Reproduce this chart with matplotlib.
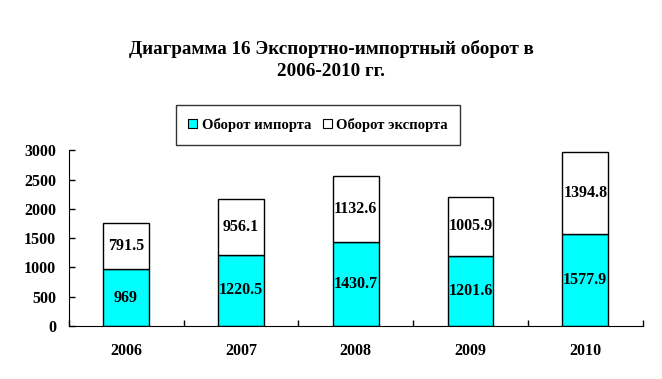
import matplotlib
matplotlib.use("Agg")
import matplotlib.pyplot as plt
from matplotlib.patches import Patch
import numpy as np

years = ["2006", "2007", "2008", "2009", "2010"]
imports = [969, 1220.5, 1430.7, 1201.6, 1577.9]
exports = [791.5, 956.1, 1132.6, 1005.9, 1394.8]
import_labels = ["969", "1220.5", "1430.7", "1201.6", "1577.9"]
export_labels = ["791.5", "956.1", "1132.6", "1005.9", "1394.8"]
yticks = [0, 500, 1000, 1500, 2000, 2500, 3000]

plt.rcParams['font.family'] = ['Liberation Serif', 'DejaVu Serif']
plt.rcParams['font.weight'] = 'bold'

W, H = 662, 379
fig = plt.figure(figsize=(W/100, H/100), dpi=100)
ax = fig.add_axes([68.7/W, 1 - 326/H, (642.7-68.7)/W, (326-150.3)/H])

x = np.arange(len(years))
cyan = "#00FFFF"
ax.bar(x, imports, width=0.4, color=cyan, edgecolor="black", linewidth=1, label="Оборот импорта")
ax.bar(x, exports, width=0.4, bottom=imports, color="white", edgecolor="black", linewidth=1, label="Оборот экспорта")

for i in range(len(years)):
    ax.text(x[i], imports[i]/2, import_labels[i], ha="center", va="center", fontsize=11.5, fontweight="bold")
    ax.text(x[i], imports[i] + exports[i]/2, export_labels[i], ha="center", va="center", fontsize=11.5, fontweight="bold")

ax.set_xlim(-0.5, len(years)-0.5)
ax.set_ylim(0, 3000)
ax.set_yticks(yticks)
ax.set_yticklabels([str(v) for v in yticks], fontsize=11.5, fontweight="bold")
ax.set_xticks(np.arange(-0.5, len(years), 1.0), minor=False)
ax.set_xticklabels([])
ax.set_xticks(x, minor=True)
ax.set_xticklabels(years, minor=True, fontsize=11.5, fontweight="bold")
ax.tick_params(axis="x", which="major", direction="in", length=4, width=1)
ax.tick_params(axis="x", which="minor", length=0, pad=12)
ax.tick_params(axis="y", direction="in", length=4, width=1, pad=9)
ax.spines["top"].set_visible(False)
ax.spines["right"].set_visible(False)

fig.text(331/W, 1 - 60/H, "Диаграмма 16 Экспортно-импортный оборот в\n2006-2010 гг.",
         ha="center", va="center", fontsize=13.8, fontweight="bold", linespacing=1.45)

handles = [Patch(facecolor=cyan, edgecolor="black", linewidth=0.8),
           Patch(facecolor="white", edgecolor="black", linewidth=0.8)]
leg = fig.legend(handles, ["Оборот импорта", "Оборот экспорта"], ncol=2,
                 loc="center", bbox_to_anchor=(318/W, 1 - 125/H),
                 prop={"size": 10.6, "weight": "bold"}, frameon=True, fancybox=False,
                 edgecolor="black", handlelength=0.6, handleheight=0.6, handletextpad=0.3,
                 columnspacing=0.8, borderpad=0.85, borderaxespad=0.0)
leg.get_frame().set_linewidth(1)

fig.savefig("out.png", dpi=100)
